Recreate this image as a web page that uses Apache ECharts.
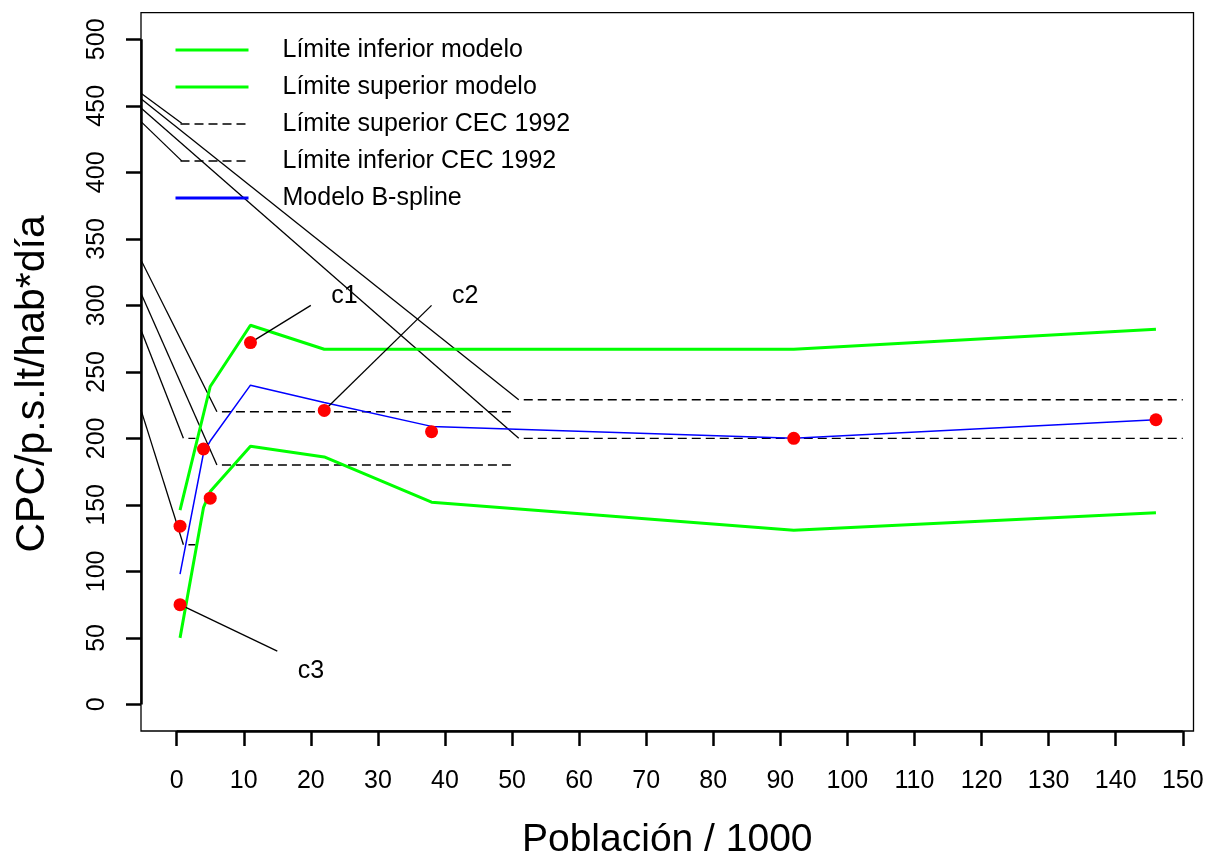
<!DOCTYPE html>
<html>
<head>
<meta charset="utf-8">
<script src="https://cdn.jsdelivr.net/npm/echarts@6/dist/echarts.min.js"></script>
<style>
  html, body { margin: 0; padding: 0; background: #ffffff; }
  #chart { width: 1209px; height: 857px; }
</style>
</head>
<body>
<div id="chart"></div>
<script>
// Population in thousands on x, daily consumption per inhabitant on y.

// Tick values of both axes
const xTicks = [0, 10, 20, 30, 40, 50, 60, 70, 80, 90, 100, 110, 120, 130, 140, 150];
const yTicks = [0, 50, 100, 150, 200, 250, 300, 350, 400, 450, 500];

// Observed values (red dots)
const obsX = [0.5, 0.5, 4, 5, 11, 22, 38, 92, 146];
const obsY = [75, 134, 192, 155, 272, 221, 205, 200, 214];

// B-spline fit
const splineX = [0.5, 4, 5, 11, 22, 38, 92, 146];
const splineY = [98, 189, 198, 240, 227, 209, 200, 214];

// Model bounds
const upperX = [0.5, 5, 11, 22, 38, 92, 146];
const upperY = [146, 239, 285, 267, 267, 267, 282];
const lowerX = [0.5, 4, 5, 11, 22, 38, 92, 146];
const lowerY = [50, 148, 160, 194, 186, 152, 131, 144];

// CEC 1992 ranges: population span and bounds
const cecFrom = [1, 6, 51];
const cecTo = [2.8, 50, 150];
const cecUpper = [200, 220, 229];
const cecLower = [120, 180, 200];

// Thin guide strokes running in from the left edge
const guideFrom = [[-5.32, 459.5], [-5.32, 455.3], [-5.32, 448.4], [-5.32, 438.1],
                   [-5.32, 334.1], [-5.32, 309.1], [-5.32, 281.5], [-5.32, 221.4]];
const guideTo = [[0.75, 436.9], [51, 229], [51, 200], [0.75, 408.6],
                 [6, 220], [6, 180], [1, 200], [1, 120]];

// Point call-outs
const noteText = ['c1', 'c2', 'c3'];
const noteAt = [[25, 307], [43, 307], [20, 25]];
const leaderFrom = [[11, 272], [22, 221], [0.5, 75]];
const leaderTo = [[20, 300], [38, 300], [15, 40]];

const FONT = '"Liberation Sans", Arial, Helvetica, sans-serif';
const X_MIN = -5.32, X_MAX = 151.6, Y_MIN = -20, Y_MAX = 520;

const pairs = (xs, ys) => xs.map((x, i) => [x, ys[i]]);

const GREEN = '#00ff00', BLUE = '#0000ff', RED = '#ff0000', BLACK = '#000000';

const series = [];

series.push({
  name: 'Límite inferior modelo', type: 'line', data: pairs(lowerX, lowerY),
  symbol: 'none', itemStyle: { color: GREEN }, lineStyle: { color: GREEN, width: 3 }, z: 4
});
series.push({
  name: 'Límite superior modelo', type: 'line', data: pairs(upperX, upperY),
  symbol: 'none', itemStyle: { color: GREEN }, lineStyle: { color: GREEN, width: 3 }, z: 4
});

const dashStyle = { color: BLACK, width: 1.4, type: [9, 5], dashOffset: 9 };
cecFrom.forEach((x0, i) => {
  series.push({
    name: 'Límite superior CEC 1992', type: 'line',
    data: [[x0, cecUpper[i]], [cecTo[i], cecUpper[i]]],
    symbol: 'none', itemStyle: { color: BLACK }, lineStyle: dashStyle, z: 3
  });
});
cecFrom.forEach((x0, i) => {
  series.push({
    name: 'Límite inferior CEC 1992', type: 'line',
    data: [[x0, cecLower[i]], [cecTo[i], cecLower[i]]],
    symbol: 'none', itemStyle: { color: BLACK }, lineStyle: dashStyle, z: 3
  });
});

series.push({
  name: 'Modelo B-spline', type: 'line', data: pairs(splineX, splineY),
  symbol: 'none', itemStyle: { color: BLUE }, lineStyle: { color: BLUE, width: 1.5 }, z: 5
});

guideFrom.forEach((p, i) => {
  series.push({
    name: 'guide' + i, type: 'line', data: [p, guideTo[i]], silent: true,
    symbol: 'none', itemStyle: { color: BLACK }, lineStyle: { color: BLACK, width: 1.3 }, z: 2
  });
});

leaderFrom.forEach((p, i) => {
  series.push({
    name: 'leader' + i, type: 'line', data: [p, leaderTo[i]], silent: true,
    symbol: 'none', itemStyle: { color: BLACK }, lineStyle: { color: BLACK, width: 1.3 }, z: 6
  });
});

series.push({
  name: 'Observado', type: 'scatter', data: pairs(obsX, obsY),
  symbol: 'circle', symbolSize: 13, itemStyle: { color: RED, opacity: 1 }, z: 8
});

series.push({
  name: 'notas', type: 'scatter', silent: true,
  data: noteAt.map((p, i) => ({ value: p, name: noteText[i] })),
  symbolSize: 1, itemStyle: { color: 'rgba(255,255,255,0)', opacity: 1 },
  label: {
    show: true, position: 'inside', formatter: '{b}', opacity: 1,
    fontSize: 25, color: BLACK, fontFamily: FONT
  }, z: 9
});

// Axis lines spanning only the labelled range
series.push({
  name: 'ejes', type: 'line', data: [], clip: false, silent: true,
  markLine: {
    silent: true, symbol: 'none', label: { show: false },
    lineStyle: { color: BLACK, width: 2.5, type: 'solid' },
    data: [
      [{ coord: [X_MIN, yTicks[0]] }, { coord: [X_MIN, yTicks[yTicks.length - 1]] }],
      [{ coord: [xTicks[0], Y_MIN] }, { coord: [xTicks[xTicks.length - 1], Y_MIN] }]
    ]
  }
});

const legendNames = ['Límite inferior modelo', 'Límite superior modelo',
  'Límite superior CEC 1992', 'Límite inferior CEC 1992', 'Modelo B-spline'];
const legendWidths = [3, 3, 1.4, 1.4, 3];

const option = {
  animation: false,
  backgroundColor: '#ffffff',
  textStyle: { fontFamily: FONT },
  grid: {
    left: 141, right: 15.5, top: 12.7, bottom: 126,
    containLabel: false, outerBoundsMode: 'none',
    show: true, borderColor: BLACK, borderWidth: 1.3, backgroundColor: 'transparent'
  },
  legend: {
    orient: 'vertical', left: 174, top: 37.5, padding: 0,
    itemWidth: 73, itemHeight: 25, itemGap: 12,
    itemStyle: { opacity: 0 },
    textStyle: { fontSize: 25, color: BLACK, fontFamily: FONT, lineHeight: 25, padding: [0, 0, 0, 29] },
    selectedMode: false,
    data: legendNames.map((n, i) => ({ name: n, lineStyle: { width: legendWidths[i] } }))
  },
  xAxis: {
    type: 'value', min: X_MIN, max: X_MAX,
    axisLine: { show: false, onZero: false },
    splitLine: { show: false },
    axisTick: { show: true, customValues: xTicks, length: 15, lineStyle: { color: BLACK, width: 2.5 } },
    axisLabel: { customValues: xTicks, fontSize: 25, color: BLACK, fontFamily: FONT, margin: 38 },
    name: 'Población / 1000', nameLocation: 'middle', nameGap: 90,
    nameTextStyle: { fontSize: 39, color: BLACK, fontFamily: FONT }
  },
  yAxis: {
    type: 'value', min: Y_MIN, max: Y_MAX,
    axisLine: { show: false, onZero: false },
    splitLine: { show: false },
    axisTick: { show: true, customValues: yTicks, length: 15, lineStyle: { color: BLACK, width: 2.5 } },
    axisLabel: { customValues: yTicks, rotate: 90, fontSize: 25, color: BLACK, fontFamily: FONT, margin: 31 },
    name: 'CPC/p.s.lt/hab*día', nameLocation: 'middle', nameRotate: 90, nameGap: 88,
    nameTextStyle: { fontSize: 41, color: BLACK, fontFamily: FONT, padding: [0, 24, 0, 0] }
  },
  series: series
};

const chart = echarts.init(document.getElementById('chart'), null, { renderer: 'canvas' });
chart.setOption(option);
</script>
</body>
</html>
